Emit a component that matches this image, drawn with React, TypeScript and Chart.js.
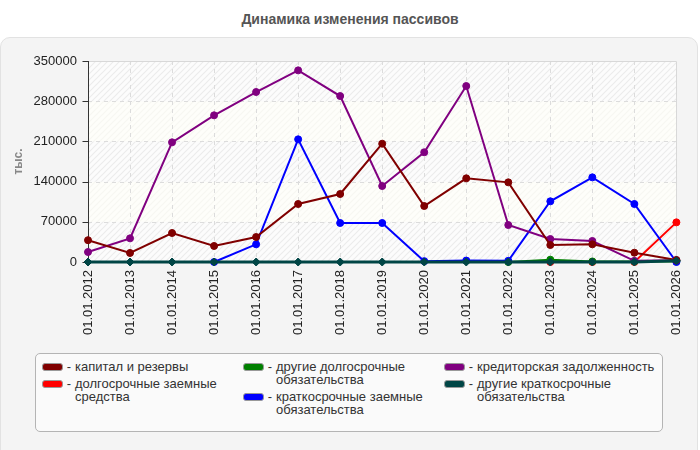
import { useEffect, useRef } from "react";
import { Chart, registerables } from "chart.js";

Chart.register(...registerables);

const years = [
  "01.01.2012", "01.01.2013", "01.01.2014", "01.01.2015", "01.01.2016",
  "01.01.2017", "01.01.2018", "01.01.2019", "01.01.2020", "01.01.2021",
  "01.01.2022", "01.01.2023", "01.01.2024", "01.01.2025", "01.01.2026",
];

const capital = [38000, 15700, 50500, 27900, 43500, 101000, 118400, 206000, 97500, 145700, 138700, 29600, 30800, 16200, 3500];
const longLoans = [null, null, null, null, null, null, null, null, null, null, null, 0, 0, 0, 69000];
const otherLong = [null, null, null, null, null, null, null, null, null, null, 0, 4000, 1000, 1000, 1000];
const shortLoans = [null, null, null, 0, 30800, 213600, 67900, 67900, 1500, 2500, 2000, 105700, 147400, 101000, 0];
const payables = [17400, 41200, 208400, 255400, 296000, 333700, 289000, 132300, 191000, 306400, 64400, 40000, 36600, 2000, 3000];
const otherShort = [0, 0, 0, 0, 0, 0, 0, 0, 0, 0, 0, 0, 0, 0, 2000];

const yTicks = [0, 70000, 140000, 210000, 280000, 350000];

const FONT = '"Liberation Sans", Arial, sans-serif';

const series = [
  { label: "капитал и резервы", data: capital, color: "#800000", order: 1 },
  { label: "долгосрочные заемные средства", data: longLoans, color: "#ff0000", order: 5 },
  { label: "другие долгосрочные обязательства", data: otherLong, color: "#008000", order: 4 },
  { label: "краткосрочные заемные обязательства", data: shortLoans, color: "#0000ff", order: 3 },
  { label: "кредиторская задолженность", data: payables, color: "#800080", order: 2 },
  { label: "другие краткосрочные обязательства", data: otherShort, color: "#004545", order: 0 },
];

const legendColumns = [
  { width: 170, items: [0, 1] },
  { width: 175, items: [2, 3] },
  { width: 190, items: [4, 5] },
];

function makeHatch(ctx: CanvasRenderingContext2D, bg: string, line: string) {
  const c = document.createElement("canvas");
  c.width = 6;
  c.height = 6;
  const g = c.getContext("2d")!;
  g.fillStyle = bg;
  g.fillRect(0, 0, 6, 6);
  g.strokeStyle = line;
  g.lineWidth = 1.2;
  g.beginPath();
  g.moveTo(0, 6);
  g.lineTo(6, 0);
  g.moveTo(-3, 3);
  g.lineTo(3, -3);
  g.moveTo(3, 9);
  g.lineTo(9, 3);
  g.stroke();
  return ctx.createPattern(c, "repeat")!;
}

const plotDecor = {
  id: "plotDecor",
  beforeDatasetsDraw(chart: any) {
    const { ctx, chartArea: a, scales } = chart;
    const x = scales.x;
    const y = scales.y;
    const hatch = makeHatch(ctx, "#fcfcfc", "#ececec");
    const cream = makeHatch(ctx, "#fefefa", "#f7f7f2");
    ctx.save();
    for (let i = 0; i < yTicks.length - 1; i++) {
      const top = y.getPixelForValue(yTicks[i + 1]);
      const bottom = y.getPixelForValue(yTicks[i]);
      ctx.fillStyle = i % 2 === 0 ? hatch : cream;
      ctx.fillRect(a.left, top, a.right - a.left, bottom - top);
    }
    ctx.strokeStyle = "#dcdcdc";
    ctx.lineWidth = 1;
    ctx.setLineDash([4, 4]);
    ctx.beginPath();
    for (let i = 1; i < yTicks.length - 1; i++) {
      const py = Math.round(y.getPixelForValue(yTicks[i])) + 0.5;
      ctx.moveTo(a.left, py);
      ctx.lineTo(a.right, py);
    }
    for (let i = 1; i < years.length - 1; i++) {
      const px = Math.round(x.getPixelForValue(i)) + 0.5;
      ctx.moveTo(px, a.top);
      ctx.lineTo(px, a.bottom);
    }
    ctx.stroke();
    ctx.setLineDash([]);
    ctx.strokeStyle = "#d8d8d8";
    ctx.beginPath();
    ctx.moveTo(a.left, Math.round(a.top) + 0.5);
    ctx.lineTo(Math.round(a.right) + 0.5, Math.round(a.top) + 0.5);
    ctx.lineTo(Math.round(a.right) + 0.5, a.bottom);
    ctx.stroke();
    ctx.strokeStyle = "#333";
    ctx.beginPath();
    const lx = Math.round(a.left) + 0.5;
    ctx.moveTo(lx, a.top);
    ctx.lineTo(lx, a.bottom);
    for (const v of yTicks) {
      const py = Math.round(y.getPixelForValue(v)) + 0.5;
      ctx.moveTo(lx - 6, py);
      ctx.lineTo(lx, py);
    }
    ctx.stroke();
    ctx.restore();
  },
};

export default function App() {
  const chartRef = useRef<HTMLCanvasElement>(null);
  const chartInstance = useRef<Chart | null>(null);

  useEffect(() => {
    document.body.style.margin = "0";
    if (!chartRef.current) return;
    const ctx = chartRef.current.getContext("2d");
    if (!ctx) return;

    if (chartInstance.current) {
      chartInstance.current.destroy();
    }

    chartInstance.current = new Chart(ctx, {
      type: "line",
      data: {
        labels: years,
        datasets: series.map((s) => ({
          label: s.label,
          data: s.data,
          borderColor: s.color,
          backgroundColor: s.color,
          borderWidth: s.order === 0 ? 3 : 2,
          pointRadius: s.order === 0 ? 4 : 3.5,
          pointHoverRadius: 4,
          pointStyle: s.order === 0 ? "rectRot" : "circle",
          pointBorderWidth: 1,
          tension: 0,
          fill: false,
          order: s.order,
          clip: false,
        })),
      },
      options: {
        animation: false,
        responsive: true,
        maintainAspectRatio: false,
        layout: { padding: { top: 24, right: 23, left: 0, bottom: 0 } },
        plugins: {
          legend: { display: false },
          tooltip: { enabled: false },
        },
        scales: {
          x: {
            grid: { display: false, drawTicks: false },
            border: { display: false },
            ticks: {
              minRotation: 90,
              maxRotation: 90,
              padding: 8,
              color: "#222",
              font: { family: FONT, size: 13 },
            },
            afterFit(scale: any) {
              scale.height = 80;
            },
          },
          y: {
            min: 0,
            max: 350000,
            grid: { display: false, drawTicks: false },
            border: { display: false },
            ticks: {
              stepSize: 70000,
              padding: 11,
              color: "#222",
              font: { family: FONT, size: 13 },
              callback: (v: any) => String(v),
            },
            title: {
              display: true,
              text: "тыс.",
              color: "#888",
              font: { family: FONT, size: 12, weight: "bold" },
              padding: { top: 11, bottom: 0 },
            },
            afterFit(scale: any) {
              scale.width = 88;
            },
          },
        },
      },
      plugins: [plotDecor],
    });

    return () => {
      if (chartInstance.current) {
        chartInstance.current.destroy();
        chartInstance.current = null;
      }
    };
  }, []);

  return (
    <div
      style={{
        position: "relative",
        width: 700,
        height: 450,
        overflow: "hidden",
        background: "#fff",
        fontFamily: FONT,
      }}
    >
      <div
        style={{
          position: "absolute",
          top: 11,
          left: 0,
          width: 700,
          textAlign: "center",
          fontSize: 14,
          fontWeight: "bold",
          color: "#555",
        }}
      >
        Динамика изменения пассивов
      </div>
      <div
        style={{
          position: "absolute",
          top: 37,
          left: 0,
          width: 696,
          height: 430,
          background: "#f4f4f4",
          border: "1px solid #e2e2e2",
          borderRadius: 10,
        }}
      />
      <div style={{ position: "absolute", top: 37, left: 0, width: 700, height: 305 }}>
        <canvas ref={chartRef} />
      </div>
      <div
        style={{
          position: "absolute",
          left: 35,
          top: 353,
          width: 628,
          height: 79,
          background: "#fafafa",
          border: "1px solid #b4b4b4",
          borderRadius: 5,
          display: "flex",
          paddingTop: 6,
          paddingLeft: 6,
          boxSizing: "border-box",
          fontSize: 13,
          lineHeight: "13px",
          color: "#333",
        }}
      >
        {legendColumns.map((col, ci) => (
          <div key={ci} style={{ width: ci === 2 ? 215 : 201 }}>
            {col.items.map((idx) => (
              <div key={idx} style={{ display: "flex", alignItems: "flex-start", marginBottom: 4 }}>
                <span
                  style={{
                    display: "inline-block",
                    width: 19,
                    height: 6,
                    marginTop: 3,
                    background: series[idx].color,
                    border: "1px solid #999",
                    borderRadius: 3,
                    flexShrink: 0,
                  }}
                />
                <span style={{ width: 12, textAlign: "center", flexShrink: 0 }}>-</span>
                <span style={{ width: col.width }}>{series[idx].label}</span>
              </div>
            ))}
          </div>
        ))}
      </div>
    </div>
  );
}
